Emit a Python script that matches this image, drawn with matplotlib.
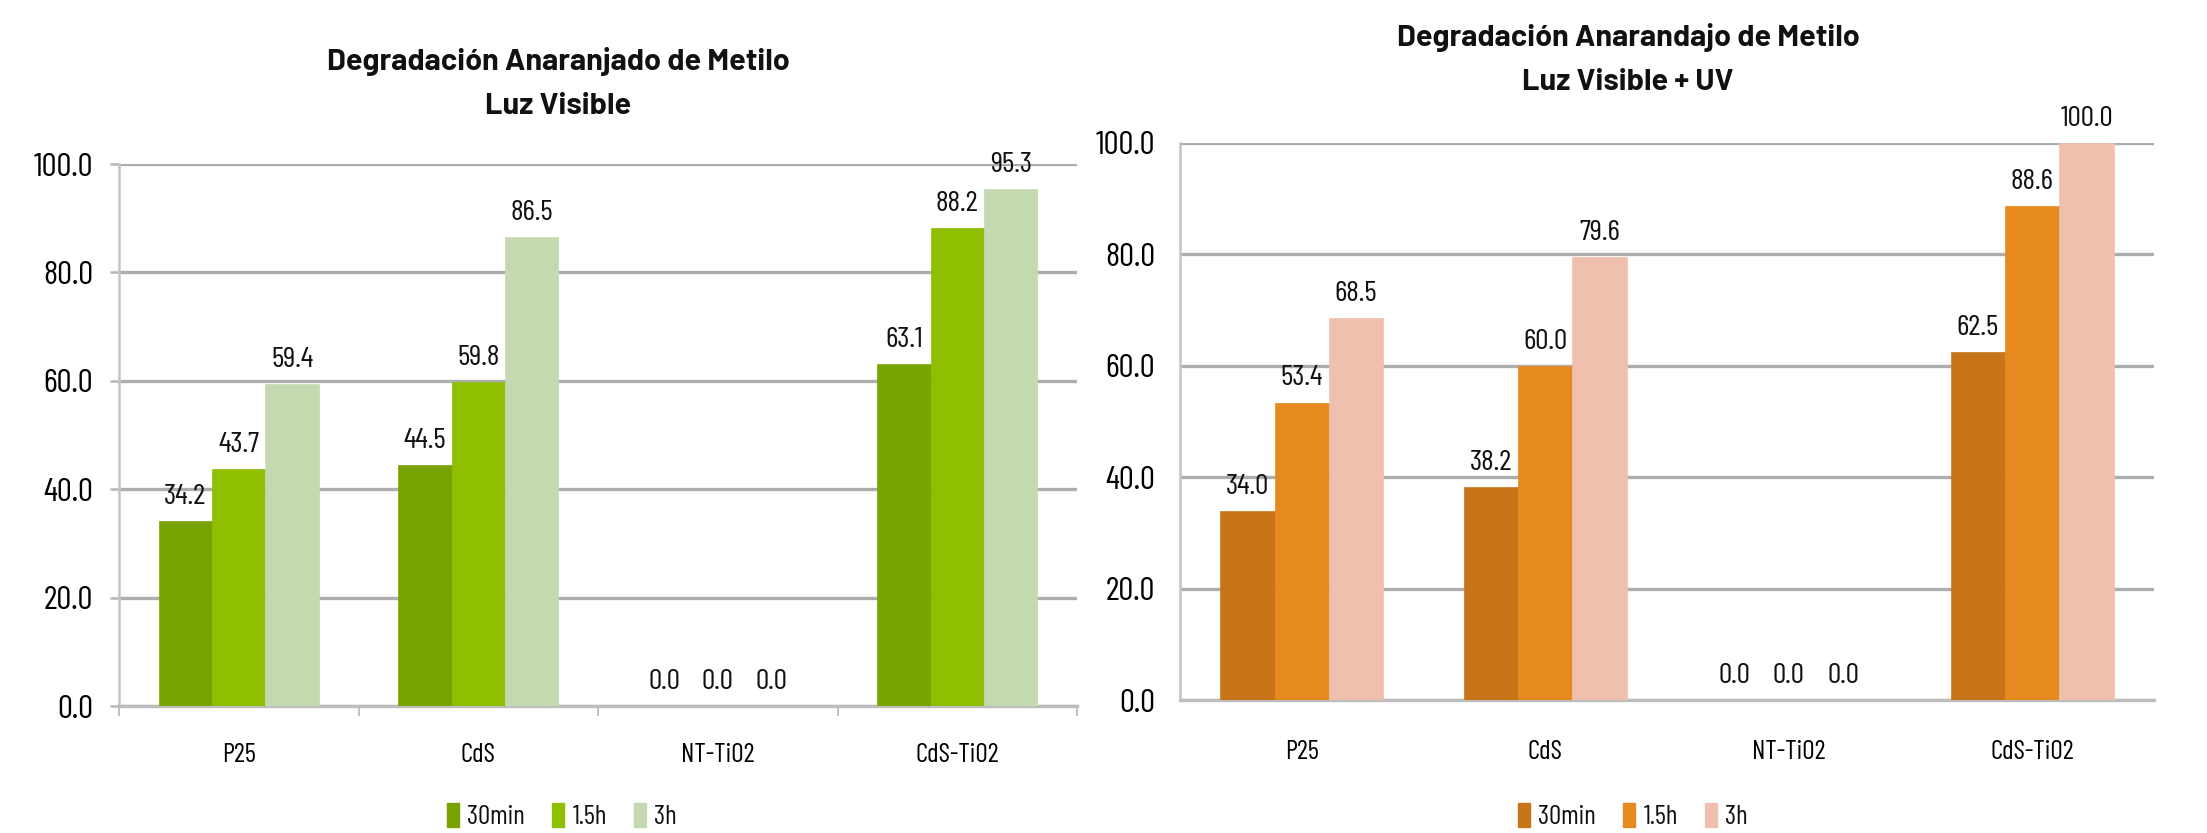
import numpy as np
import matplotlib
matplotlib.use("Agg")
import matplotlib.pyplot as plt

# data
catalysts = ["P25", "CdS", "NT-TiO2", "CdS-TiO2"]
times = ["30min", "1.5h", "3h"]

vis_30min = [34.2, 44.5, 0.0, 63.1]
vis_1_5h = [43.7, 59.8, 0.0, 88.2]
vis_3h = [59.4, 86.5, 0.0, 95.3]

uv_30min = [34.0, 38.2, 0.0, 62.5]
uv_1_5h = [53.4, 60.0, 0.0, 88.6]
uv_3h = [68.5, 79.6, 0.0, 100.0]

y_ticks = [0, 20, 40, 60, 80, 100]

green = ["#78A300", "#8FBF00", "#C5D9B0"]
orange = ["#C87418", "#E68A20", "#F0C0AE"]

plt.rcParams["font.family"] = ["Barlow Condensed", "Archivo Narrow", "Liberation Sans", "DejaVu Sans"]
plt.rcParams["text.color"] = "#111111"
title_family = ["Barlow", "Liberation Sans", "DejaVu Sans"]

W, H = 2207, 833
fig = plt.figure(figsize=(W / 100, H / 100), dpi=100)


def px_axes(x0, x1, y_top, y_bot):
    return fig.add_axes([x0 / W, 1 - y_bot / H, (x1 - x0) / W, (y_bot - y_top) / H])


def draw_panel(ax, series, colors, boundary_ticks, ylab_pad, xlab_pad):
    x = np.arange(len(catalysts))
    width = 0.223
    for i, (vals, col) in enumerate(zip(series, colors)):
        pos = x + (i - 1) * width
        ax.bar(pos, vals, width, color=col, zorder=3, edgecolor=col, linewidth=0.5)
        for p, v in zip(pos, vals):
            ax.annotate(f"{v:.1f}", (p, v), xytext=(0, 8), textcoords="offset points",
                        ha="center", va="bottom", fontsize=21.5, annotation_clip=False,
                        zorder=4)

    ax.set_xlim(-0.5, len(catalysts) - 0.5)
    ax.set_ylim(0, 100)
    ax.set_yticks(y_ticks)
    ax.set_yticklabels([f"{t:.1f}" for t in y_ticks], fontsize=24)
    ax.set_xticks(x)
    ax.set_xticklabels(catalysts, fontsize=19.5)
    ax.tick_params(axis="x", which="major", length=0, pad=xlab_pad)
    if boundary_ticks:
        ax.set_xticks(np.arange(-0.5, len(catalysts)), minor=True)
        ax.tick_params(axis="x", which="minor", length=7, width=1.2, color="#B5B5B5")
        ax.tick_params(axis="y", length=6.5, width=1.8, color="#B5B5B5", pad=ylab_pad)
    else:
        ax.tick_params(axis="y", length=0, pad=ylab_pad)

    ax.grid(axis="y", color="#ADADAD", linewidth=2.4, zorder=0)
    ax.set_axisbelow(True)
    for side in ["top", "right"]:
        ax.spines[side].set_visible(False)
    ax.spines["left"].set_color("#C4C4C4")
    ax.spines["left"].set_linewidth(1.8)
    ax.spines["bottom"].set_color("#BDBDBD")
    ax.spines["bottom"].set_linewidth(2.4)
    ax.set_facecolor("none")


ax1 = px_axes(119, 1077, 164, 706)
draw_panel(ax1, [vis_30min, vis_1_5h, vis_3h], green, True, 12, 27)

ax2 = px_axes(1180, 2154, 143, 700)
draw_panel(ax2, [uv_30min, uv_1_5h, uv_3h], orange, False, 18, 29)

title_kw = dict(ha="center", va="center", fontsize=22, fontweight="bold", family=title_family)
fig.text(558 / W, 1 - 61 / H, "Degradación Anaranjado de Metilo", **title_kw)
fig.text(558 / W, 1 - 107 / H, "Luz Visible", **title_kw)
fig.text(1628 / W, 1 - 37 / H, "Degradación Anarandajo de Metilo", **title_kw)
fig.text(1628 / W, 1 - 82 / H, "Luz Visible + UV", **title_kw)

for colors, cx in [(green, 562), (orange, 1633)]:
    handles = [plt.Rectangle((0, 0), 1, 1, color=c) for c in colors]
    fig.legend(handles, times, loc="center", bbox_to_anchor=(cx / W, 17 / H), ncol=3,
               frameon=False, fontsize=19.5, handlelength=0.45, handleheight=1.0,
               handletextpad=0.3, columnspacing=1.0)

fig.savefig("out.png", dpi=100)
